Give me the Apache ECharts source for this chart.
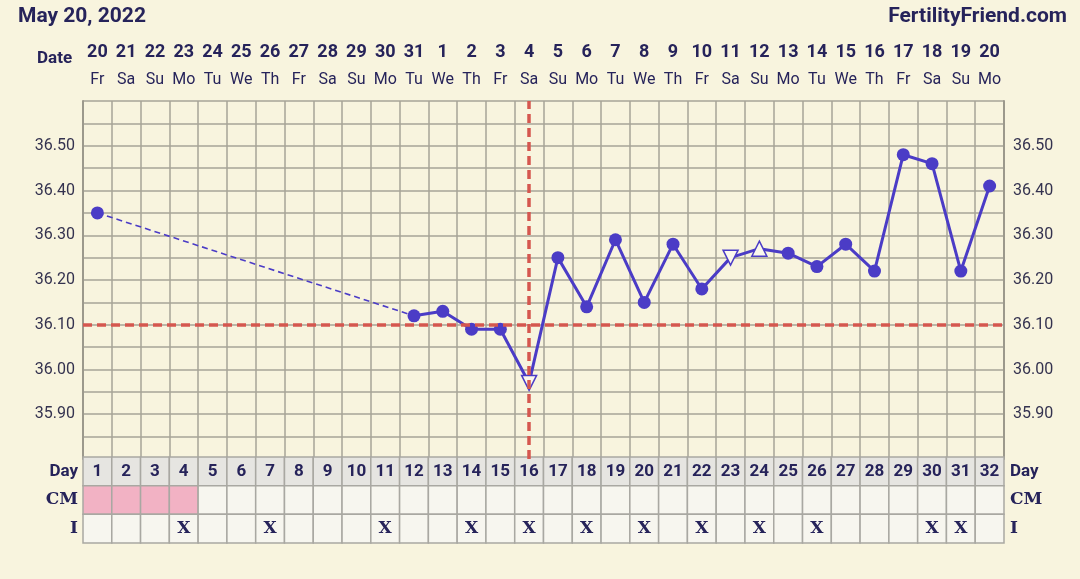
<!DOCTYPE html>
<html>
<head>
<meta charset="utf-8">
<script src="https://cdn.jsdelivr.net/npm/echarts@6/dist/echarts.min.js"></script>
<style>
html,body{margin:0;padding:0;background:#f8f4de;}
#chart{width:1080px;height:579px;}
</style>
</head>
<body>
<div id="chart"></div>
<script>
// ---- data ----
const cycleDays = ['1','2','3','4','5','6','7','8','9','10','11','12','13','14','15','16','17','18','19','20','21','22','23','24','25','26','27','28','29','30','31','32'];
const dates = ['20','21','22','23','24','25','26','27','28','29','30','31','1','2','3','4','5','6','7','8','9','10','11','12','13','14','15','16','17','18','19','20'];
const weekdays = ['Fr','Sa','Su','Mo','Tu','We','Th','Fr','Sa','Su','Mo','Tu','We','Th','Fr','Sa','Su','Mo','Tu','We','Th','Fr','Sa','Su','Mo','Tu','We','Th','Fr','Sa','Su','Mo'];
const temps = [36.35, null, null, null, null, null, null, null, null, null, null, 36.12, 36.13, 36.09, 36.09, 35.97, 36.25, 36.14, 36.29, 36.15, 36.28, 36.18, 36.25, 36.27, 36.26, 36.23, 36.28, 36.22, 36.48, 36.46, 36.22, 36.41];
const tempFlags = ['', '', '', '', '', '', '', '', '', '', '', '', '', '', '', 'down', '', '', '', '', '', '', 'down', 'up', '', '', '', '', '', '', '', ''];
const cervicalMucus = ['period','period','period','period','','','','','','','','','','','','','','','','','','','','','','','','','','','',''];
const intercourse = [0,0,0,1,0,0,1,0,0,0,1,0,0,1,0,1,0,1,0,1,0,1,0,1,0,1,0,0,0,1,1,0];
const coverline = 36.10;
const ovulationDay = '16';
const tableRows = ['Day', 'CM', 'I'];
const titleText = 'May 20, 2022';
const siteText = 'FertilityFriend.com';

// ---- build ----
const navy = '#26235a';
const lineColor = '#4b3cc6';
const gridColor = '#a7a497';
const firstSolid = temps.findIndex((v, i) => i > 0 && v != null);

const solidData = temps.map((v, i) => {
  if (v == null) return null;
  const f = tempFlags[i];
  if (f === 'down' || f === 'up') {
    return {
      value: v,
      symbol: 'triangle',
      symbolSize: 15,
      symbolRotate: f === 'down' ? 180 : 0,
      itemStyle: { color: '#fbf8ec', borderColor: lineColor, borderWidth: 1.5 }
    };
  }
  return v;
});
const dashedData = temps.map((v, i) => (i === 0 || i === firstSolid) ? v : null);

const tableData = [];
for (let i = 0; i < cycleDays.length; i++) {
  for (let r = 0; r < tableRows.length; r++) tableData.push([i, r]);
}

function yLabel(v) {
  const c = Math.round(v * 100);
  return (c % 10 === 0 && c >= 3590 && c <= 3650) ? Number(v).toFixed(2) : '';
}

const chart = echarts.init(document.getElementById('chart'));
chart.setOption({
  backgroundColor: '#f8f4de',
  animation: false,
  textStyle: { fontFamily: 'Roboto' },
  title: [
    { text: titleText, left: 13, top: 1, textStyle: { fontSize: 21, fontWeight: 'bold', color: navy, fontFamily: 'Roboto' } },
    { text: siteText, right: 8, top: 1, textStyle: { fontSize: 21, fontWeight: 'bold', color: navy, fontFamily: 'Roboto' } }
  ],
  graphic: [
    { type: 'text', left: 37, top: 50, style: { text: 'Date', font: 'bold 17px Roboto', fill: navy } }
  ],
  grid: [
    { left: 83, right: 76, top: 101, height: 358 },
    { left: 83, right: 76, top: 457, height: 86 }
  ],
  xAxis: [
    {
      type: 'category', gridIndex: 0, data: cycleDays, boundaryGap: true,
      axisLine: { show: false }, axisTick: { show: false }, axisLabel: { show: false },
      splitLine: { show: true, interval: 0, lineStyle: { color: gridColor, width: 1.5 } }
    },
    {
      type: 'category', gridIndex: 0, data: dates, position: 'top',
      axisLine: { show: false }, axisTick: { show: false },
      axisLabel: { interval: 0, margin: 40, fontSize: 18, fontWeight: 'bold', color: navy, fontFamily: 'Roboto' }
    },
    {
      type: 'category', gridIndex: 0, data: weekdays, position: 'top', offset: 0,
      axisLine: { show: false }, axisTick: { show: false },
      axisLabel: { interval: 0, margin: 13, fontSize: 16, color: navy, fontFamily: 'Roboto' }
    },
    {
      type: 'category', gridIndex: 1, data: cycleDays, show: false
    }
  ],
  yAxis: [
    {
      type: 'value', gridIndex: 0, min: 35.8, max: 36.6, interval: 0.05, position: 'left',
      axisLine: { show: true, lineStyle: { color: '#9c998c', width: 2 } }, axisTick: { show: false },
      axisLabel: { formatter: yLabel, fontSize: 16, color: '#34324f', margin: 8, fontFamily: 'Roboto' },
      splitLine: { show: true, lineStyle: { color: gridColor, width: 1.5 } }
    },
    {
      type: 'value', gridIndex: 0, min: 35.8, max: 36.6, interval: 0.05, position: 'right',
      axisLine: { show: true, lineStyle: { color: '#9c998c', width: 2 } }, axisTick: { show: false },
      axisLabel: { formatter: yLabel, fontSize: 16, color: '#34324f', margin: 9, fontFamily: 'Roboto' },
      splitLine: { show: false }
    },
    {
      type: 'category', gridIndex: 1, data: tableRows, inverse: true, position: 'left',
      axisLine: { show: false }, axisTick: { show: false },
      axisLabel: {
        margin: 5, color: navy,
        formatter: v => v === 'Day' ? '{s|' + v + '}' : '{r|' + v + '}',
        rich: {
          s: { fontSize: 17, fontWeight: 'bold', fontFamily: 'Roboto', color: navy },
          r: { fontSize: 17, fontWeight: 'bold', fontFamily: 'DejaVu Serif', color: navy }
        }
      }
    },
    {
      type: 'category', gridIndex: 1, data: tableRows, inverse: true, position: 'right',
      axisLine: { show: false }, axisTick: { show: false },
      axisLabel: {
        margin: 6, color: navy,
        formatter: v => v === 'Day' ? '{s|' + v + '}' : '{r|' + v + '}',
        rich: {
          s: { fontSize: 17, fontWeight: 'bold', fontFamily: 'Roboto', color: navy },
          r: { fontSize: 17, fontWeight: 'bold', fontFamily: 'DejaVu Serif', color: navy }
        }
      }
    }
  ],
  series: [
    {
      type: 'line', xAxisIndex: 0, yAxisIndex: 0, data: [], z: 1, silent: true,
      markLine: {
        symbol: 'none', silent: true, label: { show: false },
        lineStyle: { color: '#d5574f', width: 3.5, type: [9, 5], opacity: 1 },
        data: [ { yAxis: coverline }, { xAxis: ovulationDay } ]
      }
    },
    {
      type: 'line', xAxisIndex: 0, yAxisIndex: 0, data: dashedData, connectNulls: true,
      showSymbol: false, symbol: 'none', z: 2,
      lineStyle: { color: lineColor, width: 1.6, type: [6, 4] }
    },
    {
      type: 'line', xAxisIndex: 0, yAxisIndex: 0, data: solidData, connectNulls: false,
      showSymbol: true, showAllSymbol: true, symbol: 'circle', symbolSize: 13, z: 3,
      itemStyle: { color: lineColor },
      lineStyle: { color: lineColor, width: 3 }
    },
    {
      type: 'custom', xAxisIndex: 3, yAxisIndex: 2, data: tableData,
      renderItem: function (params, api) {
        const i = api.value(0), r = api.value(1);
        const c = api.coord([i, r]);
        const s = api.size([1, 1]);
        let fill = '#f7f6ef';
        if (r === 0) fill = '#e6e5e1';
        if (r === 1 && cervicalMucus[i] === 'period') fill = '#f2b2c4';
        const children = [{
          type: 'rect',
          shape: { x: c[0] - s[0] / 2, y: c[1] - s[1] / 2, width: s[0], height: s[1] },
          style: { fill: fill, stroke: '#a9a8a2', lineWidth: 1.5 }
        }];
        let txt = '', font = '';
        if (r === 0) { txt = cycleDays[i]; font = 'bold 17px Roboto'; }
        if (r === 2 && intercourse[i]) { txt = 'X'; font = 'bold 17px "DejaVu Serif"'; }
        if (txt) {
          children.push({
            type: 'text',
            style: { text: txt, x: c[0], y: c[1], textAlign: 'center', textVerticalAlign: 'middle', font: font, fill: navy }
          });
        }
        return { type: 'group', children: children };
      }
    }
  ]
});
</script>
</body>
</html>
